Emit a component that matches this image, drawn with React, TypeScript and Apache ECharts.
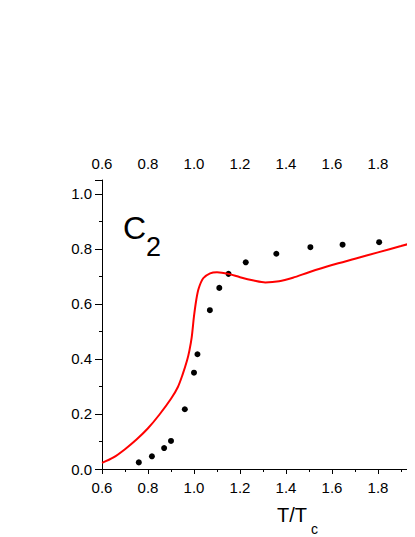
import React, { useEffect, useRef } from "react";
import * as echarts from "echarts";

const dataX = [0.76, 0.817, 0.87, 0.9, 0.96, 1.0, 1.015, 1.069, 1.11, 1.15, 1.225, 1.358, 1.506, 1.646, 1.805];
const dataY = [0.024, 0.046, 0.076, 0.102, 0.217, 0.35, 0.417, 0.577, 0.658, 0.709, 0.751, 0.782, 0.806, 0.815, 0.824];

const curveX = [0.6, 0.65, 0.7, 0.75, 0.8, 0.85, 0.9, 0.93, 0.95, 0.97, 0.98, 0.99, 1.0, 1.01, 1.02, 1.04, 1.07, 1.1, 1.15, 1.2, 1.26, 1.31, 1.37, 1.43, 1.5, 1.6, 1.7, 1.8, 1.9, 2.0];
const curveY = [0.022, 0.042, 0.072, 0.107, 0.148, 0.198, 0.255, 0.298, 0.342, 0.395, 0.43, 0.478, 0.555, 0.615, 0.655, 0.693, 0.711, 0.715, 0.709, 0.697, 0.685, 0.678, 0.682, 0.695, 0.715, 0.741, 0.764, 0.787, 0.81, 0.834];

const FONT = "Liberation Sans, Arial, sans-serif";

export default function App() {
  const ref = useRef<HTMLDivElement>(null);
  useEffect(() => {
    document.body.style.overflow = "hidden";
    const chart = echarts.init(ref.current!, null, { renderer: "svg" });
    const axisLine = { show: true, lineStyle: { color: "#000", width: 1 } };
    const xLabelFmt = (v: number) => v.toFixed(1);
    const yLabelFmt = (v: number) => (Math.abs(v * 5 - Math.round(v * 5)) < 1e-6 ? v.toFixed(1) : "");
    chart.setOption({
      animation: false,
      grid: { left: 94, top: 172, width: 322, height: 289 },
      xAxis: [
        {
          type: "value", position: "bottom", min: 0.6, max: 2.0, interval: 0.2,
          axisLine, splitLine: { show: false },
          axisTick: { show: true, inside: false, length: 5, lineStyle: { color: "#000" } },
          minorTick: { show: true, splitNumber: 2, length: 3, lineStyle: { color: "#000" } },
          axisLabel: { formatter: xLabelFmt, color: "#000", fontSize: 15, fontFamily: FONT, margin: 11 },
        },
        {
          type: "value", position: "top", min: 0.6, max: 2.0, interval: 0.2,
          axisLine, splitLine: { show: false },
          axisTick: { show: true, inside: true, length: 5, lineStyle: { color: "#000" } },
          minorTick: { show: true, splitNumber: 2, length: 3, lineStyle: { color: "#000" } },
          axisLabel: { formatter: xLabelFmt, color: "#000", fontSize: 15, fontFamily: FONT, margin: 9 },
        },
      ],
      yAxis: [
        {
          type: "value", position: "left", min: 0, max: 1.05, interval: 0.2,
          axisLine, splitLine: { show: false },
          axisTick: { show: true, inside: false, length: 7, lineStyle: { color: "#000" } },
          minorTick: { show: true, splitNumber: 2, length: 3, lineStyle: { color: "#000" } },
          axisLabel: { formatter: yLabelFmt, color: "#000", fontSize: 15, fontFamily: FONT, margin: 10, showMaxLabel: false },
        },
        {
          type: "value", position: "right", min: 0, max: 1.05, interval: 0.2,
          axisLine, splitLine: { show: false },
          axisTick: { show: true, inside: true, length: 5 },
          axisLabel: { show: false },
        },
      ],
      series: [
        {
          type: "line", xAxisIndex: 0, yAxisIndex: 0,
          data: curveX.map((x, i) => [x, curveY[i]]),
          smooth: 0.3, showSymbol: false,
          lineStyle: { color: "#ff0000", width: 2 },
        },
        {
          type: "scatter", xAxisIndex: 0, yAxisIndex: 0,
          data: dataX.map((x, i) => [x, dataY[i]]),
          symbol: "circle", symbolSize: 6,
          itemStyle: { color: "#000", opacity: 1 },
        },
      ],
      graphic: [
        { type: "text", left: 115, top: 204, style: { text: "C", fontSize: 32, fontFamily: FONT, fill: "#000" } },
        { type: "text", left: 138, top: 225, style: { text: "2", fontSize: 27, fontFamily: FONT, fill: "#000" } },
        { type: "text", left: 269, top: 497, style: { text: "T/T", fontSize: 20, fontFamily: FONT, fill: "#000" } },
        { type: "text", left: 303, top: 514, style: { text: "c", fontSize: 14, fontFamily: FONT, fill: "#000" } },
      ],
    });
    return () => chart.dispose();
  }, []);
  return (
    <div style={{ width: 407, height: 529, overflow: "hidden" }}>
      <div ref={ref} style={{ width: 440, height: 529 }} />
    </div>
  );
}
